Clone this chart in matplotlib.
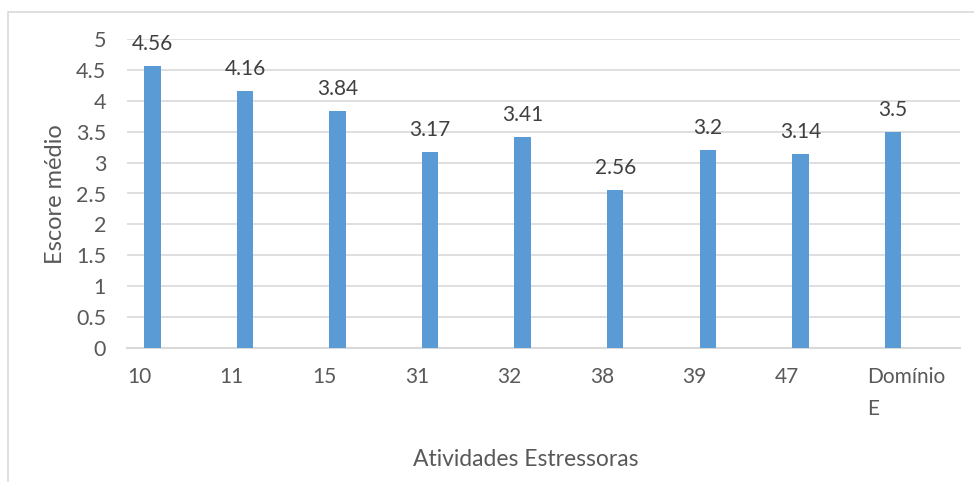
import numpy as np
import matplotlib.pyplot as plt
from matplotlib.patches import Rectangle

# Data
categories = ['10', '11', '15', '31', '32', '38', '39', '47', 'Domínio\nE']
scores = [4.56, 4.16, 3.84, 3.17, 3.41, 2.56, 3.2, 3.14, 3.5]
value_labels = ['4.56', '4.16', '3.84', '3.17', '3.41', '2.56', '3.2', '3.14', '3.5']

plt.rcParams['font.family'] = ['Lato', 'DejaVu Sans']

bar_color = '#5B9BD5'
grid_color = '#D9D9D9'
text_color = '#595959'

fig = plt.figure(figsize=(9.74, 4.82), dpi=100)
ax = fig.add_axes([127 / 974, 1 - 348 / 482, (960 - 127) / 974, (348 - 39) / 482])

# outer chart frame (clipped on the right and bottom like the reference)
fig.patches.append(Rectangle((8 / 974, -0.2), 1.2, 1.2 - 12 / 482,
                             transform=fig.transFigure, fill=False,
                             edgecolor=grid_color, linewidth=1.2))

x = np.arange(len(categories))
bars = ax.bar(x + 0.275, scores, width=0.178, color=bar_color, zorder=3)

for b, lab in zip(bars, value_labels):
    ax.annotate(lab, (b.get_x() + b.get_width() / 2, b.get_height()),
                xytext=(0, 11.5), textcoords='offset points',
                ha='center', va='baseline', fontsize=15, color='#404040')

ax.set_xlim(0, len(categories))
ax.set_ylim(0, 5)
ax.set_yticks(np.arange(0, 5.01, 0.5))
ax.set_yticklabels(['0', '0.5', '1', '1.5', '2', '2.5', '3', '3.5', '4', '4.5', '5'])
ax.set_xticks(x)
ax.set_xticklabels(categories, ha='left', linespacing=1.7)

ax.tick_params(axis='y', length=0, pad=15, labelsize=15.5, labelcolor=text_color)
ax.tick_params(axis='x', length=0, pad=14, labelsize=15, labelcolor=text_color)

ax.grid(axis='y', color=grid_color, linewidth=1.2, zorder=0)
for side in ['top', 'right', 'left']:
    ax.spines[side].set_visible(False)
ax.spines['bottom'].set_color(grid_color)
ax.spines['bottom'].set_linewidth(1.5)

fig.text(55 / 974, 1 - 194 / 482, 'Escore médio', rotation=90,
         ha='center', va='center', fontsize=17, color=text_color)
fig.text(526 / 974, 1 - 460 / 482, 'Atividades Estressoras',
         ha='center', va='center', fontsize=16.5, color=text_color)

fig.savefig('out.png', dpi=100)
